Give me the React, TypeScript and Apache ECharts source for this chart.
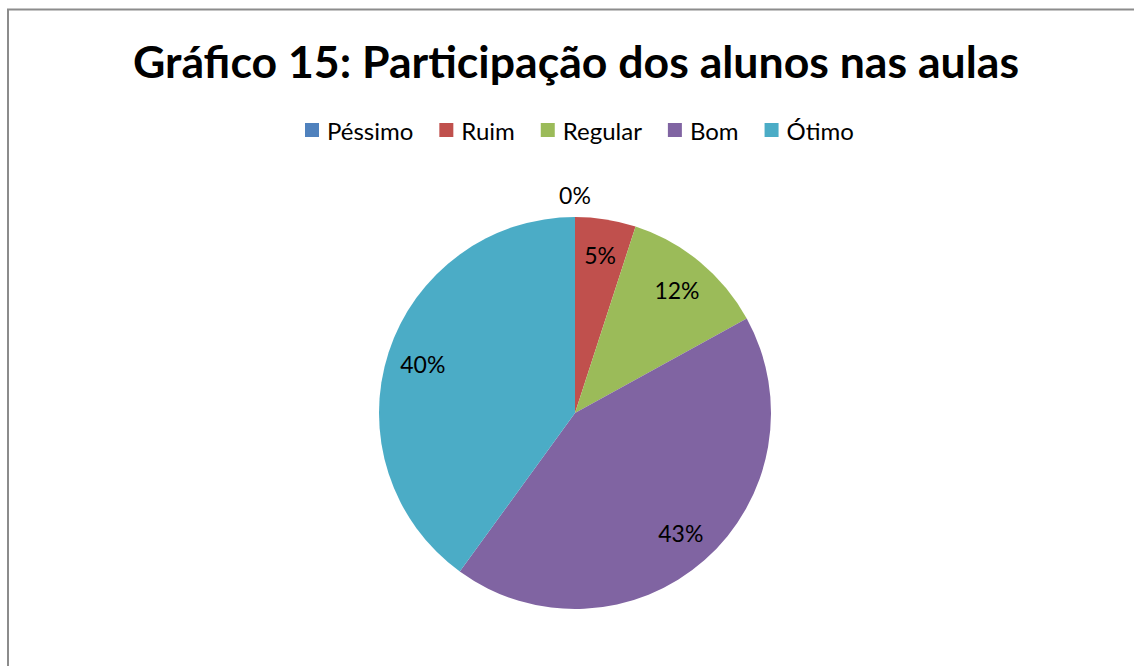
import React, { useEffect, useRef } from "react";
import * as echarts from "echarts";

const categories = ["Péssimo", "Ruim", "Regular", "Bom", "Ótimo"];
const values = [0, 5, 12, 43, 40];
const colors = ["#4F81BD", "#C0504D", "#9BBB59", "#8064A2", "#4BACC6"];
const titleText = "Gráfico 15: Participação dos alunos nas aulas";

export default function App() {
  const ref = useRef<HTMLDivElement>(null);
  useEffect(() => {
    if (!ref.current) return;
    const chart = echarts.init(ref.current, null, { renderer: "svg" });
    const data = categories.map((name, i) => ({
      name,
      value: values[i],
      itemStyle: { color: colors[i] },
    }));
    const fmt = (p: any) => Math.round(p.percent) + "%";
    const center = [575, 413];
    const labelStyle = {
      position: "inside",
      formatter: fmt,
      fontFamily: "Lato",
      fontSize: 23,
      color: "#000000",
    };
    chart.setOption({
      animation: false,
      backgroundColor: "#ffffff",
      color: colors,
      title: {
        text: titleText,
        left: 133,
        top: 38,
        padding: 0,
        textStyle: {
          fontFamily: "Lato",
          fontWeight: "bold",
          fontSize: 44.6,
          color: "#000000",
        },
      },
      legend: {
        data: categories,
        top: 118,
        left: 305,
        padding: 0,
        itemWidth: 14,
        itemHeight: 14,
        itemGap: 26,
        icon: "rect",
        textStyle: { fontFamily: "Lato", fontSize: 24, color: "#000000", padding: [0, 0, 0, 3] },
        selectedMode: false,
      },
      graphic: [
        {
          type: "polyline",
          shape: { points: [[8, 700], [8, 9.5], [1200, 9.5]] },
          style: { fill: "none", stroke: "#8c8c8c", lineWidth: 2 },
          silent: true,
        },
      ],
      series: [
        {
          type: "pie",
          center,
          radius: 196,
          startAngle: 90,
          clockwise: true,
          data,
          label: { show: false },
          labelLine: { show: false },
          silent: true,
        },
        {
          type: "pie",
          center,
          radius: [118, 196],
          startAngle: 90,
          clockwise: true,
          data: data.map((d) => ({
            ...d,
            itemStyle: { color: "transparent" },
            label: { show: d.value !== 0 },
          })),
          label: labelStyle,
          labelLine: { show: false },
          legendHoverLink: false,
          silent: true,
        },
        {
          type: "pie",
          center,
          radius: [196, 234],
          startAngle: 90,
          clockwise: true,
          data: data.map((d) => ({
            ...d,
            itemStyle: { color: "transparent" },
            label: { show: d.value === 0 },
          })),
          label: labelStyle,
          labelLine: { show: false },
          legendHoverLink: false,
          silent: true,
        },
      ],
    });
    return () => chart.dispose();
  }, []);
  return (
    <div
      ref={ref}
      style={{ position: "fixed", left: 0, top: 0, width: 1134, height: 666 }}
    />
  );
}
